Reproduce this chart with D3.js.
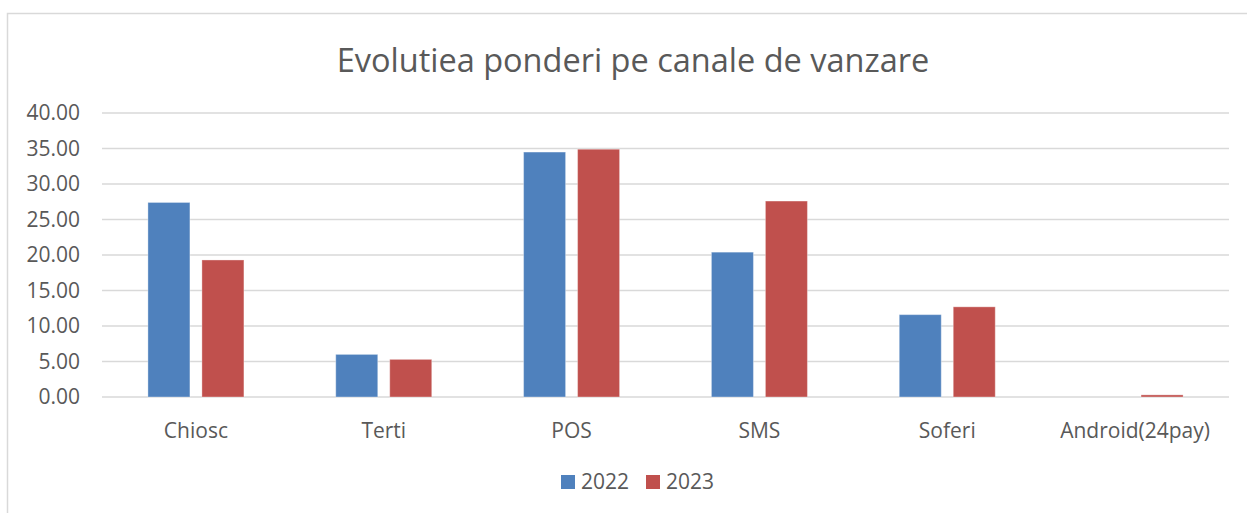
<!DOCTYPE html>
<html>
<head>
<meta charset="utf-8">
<script src="https://cdn.jsdelivr.net/npm/d3@7"></script>
<style>
    body { margin: 0; background: #fff; }
    svg text { font-family: "Open Sans", "Noto Sans", sans-serif; fill: #595959; }
</style>
</head>
<body>
<div id="chart"></div>
<script>
// Data
const categories = ['Chiosc', 'Terti', 'POS', 'SMS', 'Soferi', 'Android(24pay)'];
const series = ['2022', '2023'];
const values2022 = [27.4, 6.0, 34.5, 20.4, 11.6, 0.0];
const values2023 = [19.3, 5.3, 34.9, 27.6, 12.7, 0.3];
const yTicks = [0, 5, 10, 15, 20, 25, 30, 35, 40];
const colors = ['#4f81bd', '#c0504d'];

const width = 1247;
const height = 513;
const margin = { top: 113, right: 18, bottom: 116, left: 102 };

const svg = d3.select('#chart').append('svg')
    .attr('width', width)
    .attr('height', height);

// Chart border (only top and left edges are in view)
svg.append('rect')
    .attr('x', 7.5)
    .attr('y', 13.5)
    .attr('width', width + 20)
    .attr('height', height + 20)
    .attr('fill', 'none')
    .attr('stroke', '#d9d9d9')
    .attr('stroke-width', 1.5);

const x = d3.scaleBand()
    .domain(categories)
    .range([margin.left, width - margin.right]);

const xInner = d3.scaleBand()
    .domain(series)
    .range([x.bandwidth() / 2 - 48, x.bandwidth() / 2 + 48])
    .paddingInner(0.222);

const y = d3.scaleLinear()
    .domain([0, 40])
    .range([height - margin.bottom, margin.top]);

// Gridlines
svg.append('g')
    .selectAll('line')
    .data(yTicks)
    .enter().append('line')
    .attr('x1', margin.left)
    .attr('x2', width - margin.right)
    .attr('y1', d => y(d))
    .attr('y2', d => y(d))
    .attr('stroke', '#d9d9d9')
    .attr('stroke-width', 1.5);

// Y axis labels
svg.append('g')
    .selectAll('text')
    .data(yTicks)
    .enter().append('text')
    .attr('x', 80)
    .attr('y', d => y(d))
    .attr('dy', '0.35em')
    .attr('text-anchor', 'end')
    .attr('font-size', 21)
    .text(d => d.toFixed(2));

// Bars
const rows = categories.map((c, i) => ({ cat: c, vals: [values2022[i], values2023[i]] }));

const group = svg.append('g')
    .selectAll('g')
    .data(rows)
    .enter().append('g')
    .attr('transform', d => `translate(${x(d.cat)},0)`);

group.selectAll('rect')
    .data(d => d.vals.map((v, j) => ({ key: series[j], value: v, idx: j })))
    .enter().append('rect')
    .attr('x', d => xInner(d.key))
    .attr('y', d => y(d.value))
    .attr('width', xInner.bandwidth())
    .attr('height', d => y(0) - y(d.value))
    .attr('fill', d => colors[d.idx])
    .attr('stroke', '#fff')
    .attr('stroke-opacity', 0.35)
    .attr('stroke-width', 1);

// Category labels
svg.append('g')
    .selectAll('text')
    .data(categories)
    .enter().append('text')
    .attr('x', d => x(d) + x.bandwidth() / 2)
    .attr('y', 438)
    .attr('text-anchor', 'middle')
    .attr('font-size', 21)
    .text(d => d);

// Title
svg.append('text')
    .attr('x', 633)
    .attr('y', 72)
    .attr('text-anchor', 'middle')
    .attr('font-size', 32.5)
    .text('Evolutiea ponderi pe canale de vanzare');

// Legend
const legend = svg.append('g')
    .selectAll('g')
    .data(series)
    .enter().append('g')
    .attr('transform', (d, i) => `translate(${561 + i * 85},475)`);

legend.append('rect')
    .attr('width', 14)
    .attr('height', 14)
    .attr('fill', (d, i) => colors[i]);

legend.append('text')
    .attr('x', 20)
    .attr('y', 7)
    .attr('dy', '0.35em')
    .attr('font-size', 21)
    .text(d => d);
</script>
</body>
</html>
